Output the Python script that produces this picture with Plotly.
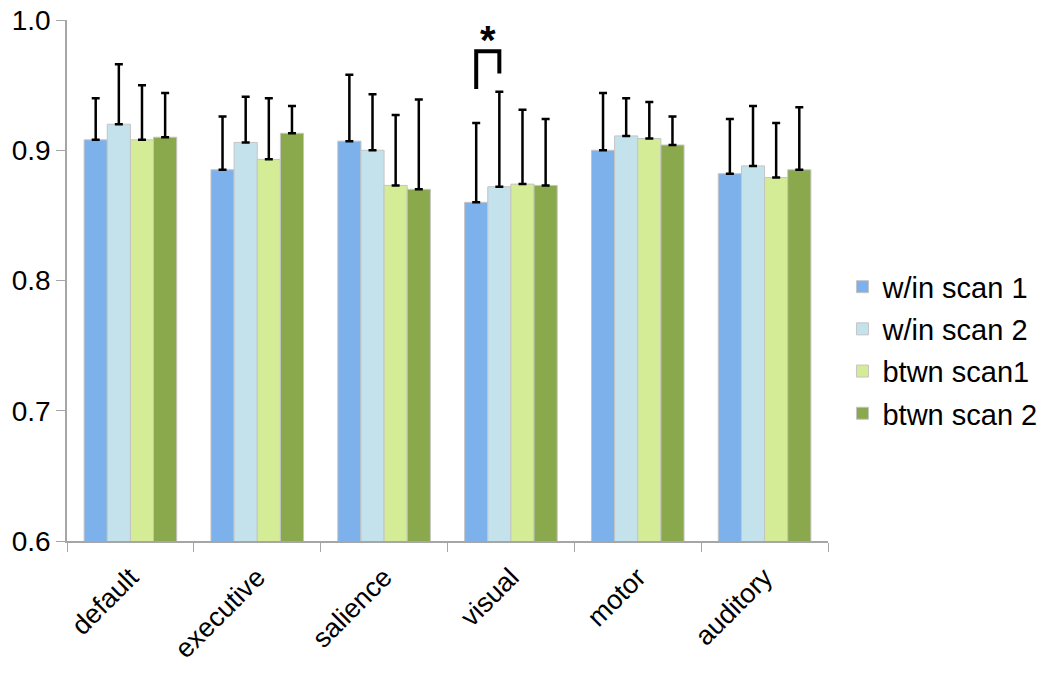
import plotly.graph_objects as go

categories = ["default", "executive", "salience", "visual", "motor", "auditory"]
series_names = ["w/in scan 1", "w/in scan 2", "btwn scan1", "btwn scan 2"]

win_scan1 = [0.908, 0.885, 0.907, 0.860, 0.900, 0.882]
win_scan2 = [0.920, 0.906, 0.900, 0.872, 0.911, 0.888]
btwn_scan1 = [0.908, 0.893, 0.873, 0.874, 0.909, 0.879]
btwn_scan2 = [0.910, 0.913, 0.870, 0.873, 0.904, 0.885]

err_win_scan1 = [0.032, 0.041, 0.051, 0.061, 0.044, 0.042]
err_win_scan2 = [0.046, 0.035, 0.043, 0.073, 0.029, 0.046]
err_btwn_scan1 = [0.042, 0.047, 0.054, 0.057, 0.028, 0.042]
err_btwn_scan2 = [0.034, 0.021, 0.069, 0.051, 0.022, 0.048]

y_ticks = [0.6, 0.7, 0.8, 0.9, 1.0]

# significance marker: visual, between series 0 and 1
sig_category = "visual"
sig_pair = (0, 1)
sig_top = 0.976
sig_left_bottom = 0.947
sig_right_bottom = 0.959
sig_label = "*"

values = [win_scan1, win_scan2, btwn_scan1, btwn_scan2]
errors = [err_win_scan1, err_win_scan2, err_btwn_scan1, err_btwn_scan2]
colors = ["#7cb1ec", "#c3e2ec", "#d4ec96", "#8aa84c"]

FONT = "Liberation Sans, Arial, Helvetica, sans-serif"
BARGAP = 0.27

fig = go.Figure()
for i, (name, vals, errs, col) in enumerate(zip(series_names, values, errors, colors)):
    fig.add_trace(go.Bar(
        name=name, x=categories, y=vals, legendgroup=f"g{i}",
        marker=dict(color=col, line=dict(color="#c4c4c4", width=1)),
        error_y=dict(type="data", symmetric=False, array=errs,
                     arrayminus=[0] * len(errs), color="black",
                     thickness=2.5, width=4),
    ))

# bracket position derived from bar layout
n = len(series_names)
bw = (1 - BARGAP) / n
ci = categories.index(sig_category)
xl = ci - (1 - BARGAP) / 2 + (sig_pair[0] + 0.5) * bw
xr = ci - (1 - BARGAP) / 2 + (sig_pair[1] + 0.5) * bw
fig.add_shape(type="path",
              path=f"M {xl} {sig_left_bottom} L {xl} {sig_top} L {xr} {sig_top} L {xr} {sig_right_bottom}",
              xref="x", yref="y", line=dict(color="black", width=4))
fig.add_annotation(x=(xl + xr) / 2, y=sig_top, xref="x", yref="y", text=f"<b>{sig_label}</b>",
                   showarrow=False, yanchor="bottom", yshift=-13,
                   font=dict(size=40, color="black", family=FONT))

fig.update_layout(
    barmode="group", bargap=BARGAP, bargroupgap=0,
    width=1034, height=668,
    margin=dict(l=59, r=214, t=12, b=135, autoexpand=False),
    paper_bgcolor="white", plot_bgcolor="white",
    font=dict(family=FONT, color="black"),
    showlegend=True,
    legend=dict(x=1.019, xanchor="left", y=0.366, yanchor="middle",
                font=dict(size=29, family=FONT, color="black"),
                bgcolor="rgba(0,0,0,0)", tracegroupgap=1.5),
    xaxis=dict(type="category", showline=True, linecolor="#a6a6a6", linewidth=1.5,
               ticks="outside", tickson="boundaries", ticklen=9, tickcolor="#a6a6a6",
               tickangle=-45, tickfont=dict(size=27, family=FONT, color="black"),
               ticklabelstandoff=8, ticklabeloverflow="allow",
               showgrid=False, zeroline=False, automargin=False),
    yaxis=dict(range=[0.6, 1.0], tickvals=y_ticks, tickformat=".1f",
               showline=True, linecolor="#a6a6a6", linewidth=1.5,
               ticks="outside", ticklen=9, tickcolor="#a6a6a6",
               tickfont=dict(size=28, family=FONT, color="black"),
               ticklabeloverflow="allow",
               showgrid=False, zeroline=False, automargin=False),
)

fig.write_html("out.html")
